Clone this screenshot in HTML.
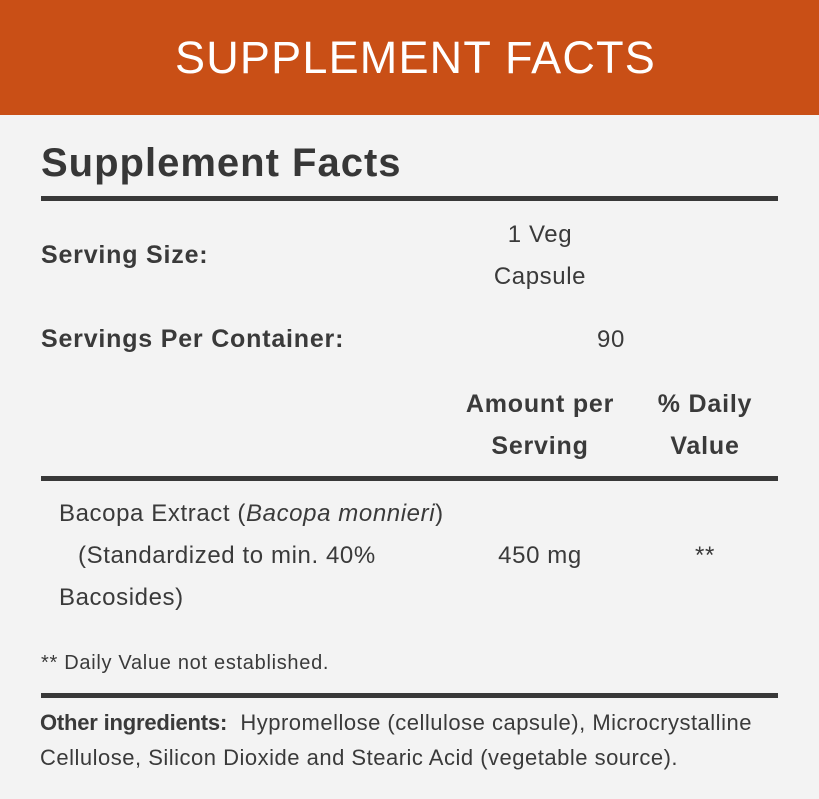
<!DOCTYPE html>
<html>
<head>
<meta charset="utf-8">
<style>
  html, body { margin:0; padding:0; }
  body { width:819px; height:799px; background:#f3f3f3; position:relative; overflow:hidden;
         font-family:"Liberation Sans", Arial, sans-serif; color:#333; }
  .band { position:absolute; left:0; top:0; width:819px; height:115px; background:#c94f16; }
  .t { position:absolute; line-height:1; white-space:nowrap; }
  .title { left:175px; top:35px; font-size:45px; color:#fff; letter-spacing:1.2px; font-weight:normal; }
  .h1 { left:41px; top:143px; font-size:40px; font-weight:bold; letter-spacing:1px; color:#373737; }
  .rule { position:absolute; left:41px; width:737px; height:5px; background:#383838; }
  .b { font-size:25px; font-weight:bold; letter-spacing:0.8px; color:#3a3a3a; }
  .r { font-size:24px; letter-spacing:0.6px; color:#3a3a3a; }
  .c1 { left:440px; width:200px; text-align:center; }
  .c2 { left:635px; width:140px; text-align:center; }
  .fn { font-size:20px; letter-spacing:0.7px; color:#3a3a3a; }
  .oi { font-size:22px; letter-spacing:0.5px; color:#3a3a3a; }
  .oi b { letter-spacing:-0.2px; }
</style>
</head>
<body>
  <div class="band"></div>
  <div class="t title">SUPPLEMENT FACTS</div>

  <div class="t h1">Supplement Facts</div>
  <div class="rule" style="top:196px;"></div>

  <div class="t b" style="left:41px; top:243px;">Serving Size:</div>
  <div class="t r c1" style="top:223px;">1 Veg</div>
  <div class="t r c1" style="top:265px;">Capsule</div>

  <div class="t b" style="left:41px; top:327px;">Servings Per Container:</div>
  <div class="t r" style="left:597px; top:328px;">90</div>

  <div class="t b c1" style="top:392px;">Amount per</div>
  <div class="t b c1" style="top:434px;">Serving</div>
  <div class="t b c2" style="top:392px;">% Daily</div>
  <div class="t b c2" style="top:434px;">Value</div>

  <div class="rule" style="top:476px;"></div>

  <div class="t r" style="left:59px; top:502px;">Bacopa Extract (<i>Bacopa monnieri</i>)</div>
  <div class="t r" style="left:78px; top:544px;">(Standardized to min. 40%</div>
  <div class="t r" style="left:59px; top:586px;">Bacosides)</div>
  <div class="t r c1" style="top:544px;">450 mg</div>
  <div class="t r c2" style="top:544px;">**</div>

  <div class="t fn" style="left:41px; top:653px;">** Daily Value not established.</div>

  <div class="rule" style="top:693px;"></div>

  <div class="t oi" style="left:40px; top:712px;"><b>Other ingredients:</b>&nbsp; Hypromellose (cellulose capsule), Microcrystalline</div>
  <div class="t oi" style="left:40px; top:747px;">Cellulose, Silicon Dioxide and Stearic Acid (vegetable source).</div>
</body>
</html>
